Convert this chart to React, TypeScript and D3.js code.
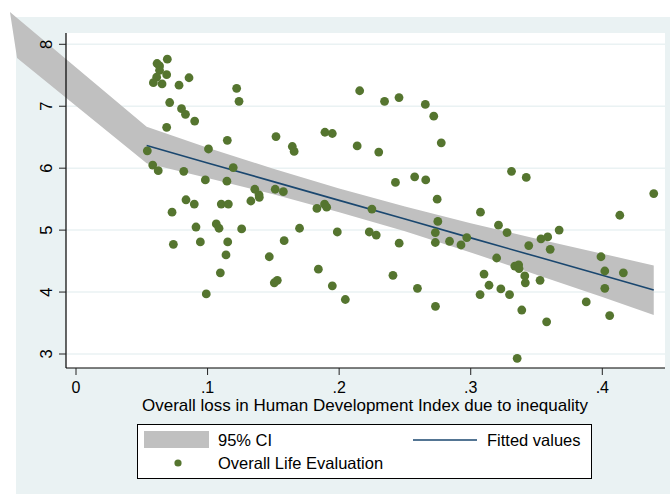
import React from "react";
import * as d3 from "d3";

// Overall loss in HDI due to inequality (x) vs overall life evaluation (y)
const lossHDI = [
  0.0694, 0.0616, 0.0635, 0.0635, 0.0613, 0.0689, 0.0588, 0.0654, 0.0783, 0.0859,
  0.1221, 0.1239, 0.0712, 0.0802, 0.0832, 0.0902, 0.0689, 0.115, 0.1007, 0.152,
  0.1644, 0.1658, 0.0542, 0.0583, 0.0625, 0.0819, 0.1195, 0.0983, 0.1147, 0.1359,
  0.1391, 0.1393, 0.1514, 0.1576, 0.0836, 0.0899, 0.1104, 0.1158, 0.1329, 0.073,
  0.0912, 0.1066, 0.1087, 0.1259, 0.1699, 0.074, 0.0945, 0.1153, 0.1582, 0.114,
  0.1469, 0.1097, 0.153, 0.1507, 0.099, 0.2156, 0.2345, 0.2455, 0.2655, 0.2719,
  0.1892, 0.1948, 0.2137, 0.2301, 0.2776, 0.2428, 0.2574, 0.2658, 0.2745, 0.1831,
  0.1889, 0.1905, 0.2249, 0.275, 0.3074, 0.1986, 0.2229, 0.2282, 0.2456, 0.2731,
  0.2731, 0.2839, 0.2926, 0.297, 0.1842, 0.1948, 0.2047, 0.2409, 0.2595, 0.2732,
  0.3071, 0.331, 0.3422, 0.4391, 0.4133, 0.3211, 0.3276, 0.3672, 0.3534, 0.3585,
  0.3441, 0.3604, 0.3197, 0.399, 0.3335, 0.3364, 0.3367, 0.4019, 0.416, 0.3101,
  0.3411, 0.3527, 0.3415, 0.3139, 0.3229, 0.3295, 0.4019, 0.3878, 0.3388, 0.4056,
  0.3577, 0.3353,
];
const lifeEval = [
  7.76, 7.69, 7.65, 7.58, 7.47, 7.51, 7.38, 7.36, 7.34, 7.46,
  7.29, 7.08, 7.06, 6.96, 6.87, 6.76, 6.66, 6.45, 6.31, 6.51,
  6.35, 6.27, 6.28, 6.05, 5.96, 5.95, 6.01, 5.81, 5.79, 5.66,
  5.57, 5.53, 5.66, 5.62, 5.49, 5.42, 5.42, 5.42, 5.47, 5.29,
  5.05, 5.1, 5.03, 5.02, 5.03, 4.77, 4.81, 4.81, 4.83, 4.6,
  4.57, 4.31, 4.19, 4.15, 3.97, 7.25, 7.08, 7.14, 7.03, 6.84,
  6.58, 6.56, 6.36, 6.26, 6.41, 5.77, 5.86, 5.81, 5.5, 5.35,
  5.42, 5.37, 5.34, 5.14, 5.29, 4.97, 4.97, 4.92, 4.79, 4.96,
  4.8, 4.82, 4.76, 4.88, 4.37, 4.1, 3.88, 4.27, 4.06, 3.77,
  3.96, 5.95, 5.85, 5.59, 5.24, 5.08, 4.96, 5.0, 4.86, 4.89,
  4.75, 4.69, 4.55, 4.57, 4.42, 4.44, 4.38, 4.34, 4.31, 4.29,
  4.26, 4.19, 4.15, 4.11, 4.05, 3.96, 4.06, 3.84, 3.71, 3.62,
  3.52, 2.93,
];

// Confidence band of the linear fit; the first pair is the stray leftmost evaluation
const ciXUpper = [-0.0502, 0.0537, 0.1, 0.15, 0.2, 0.25, 0.3, 0.35, 0.4, 0.4391];
const ciXLower = [-0.0448, 0.0537, 0.1, 0.15, 0.2, 0.25, 0.3, 0.35, 0.4, 0.4391];
const ciLower = [7.78, 6.08, 5.84, 5.58, 5.29, 4.98, 4.64, 4.28, 3.92, 3.63];
const ciUpper = [8.52, 6.67, 6.33, 5.99, 5.67, 5.38, 5.11, 4.86, 4.62, 4.43];

// Fitted values
const fitX = [0.0537, 0.1, 0.15, 0.2, 0.25, 0.3, 0.35, 0.4, 0.4391];
const fitY = [6.365, 6.085, 5.783, 5.48, 5.178, 4.875, 4.573, 4.27, 4.033];

const xTicks = [0, 0.1, 0.2, 0.3, 0.4];
const xTickLabels = ["0", ".1", ".2", ".3", ".4"];
const yTicks = [3, 4, 5, 6, 7, 8];

const W = 670;
const H = 494;
const BG = "#EAF2F3";
const GREEN = "#55752F";
const NAVY = "#1A476F";
const BAND = "#C0C0C0";
const FONT = "'Liberation Sans', Arial, Helvetica, sans-serif";

export default function App() {
  const x = d3.scaleLinear().domain([0, 0.4]).range([76, 602.3]);
  const y = d3.scaleLinear().domain([3, 8]).range([354, 44.3]);
  const plot = { left: 66, right: 665, top: 33, bottom: 368 };

  const band = d3
    .area<number>()
    .x0((_, i) => x(ciXLower[i]))
    .x1((_, i) => x(ciXUpper[i]))
    .y0((_, i) => y(ciLower[i]))
    .y1((_, i) => y(ciUpper[i]));
  const fitLine = d3
    .line<number>()
    .x((_, i) => x(fitX[i]))
    .y((d) => y(d));

  return (
    <svg
      width={W}
      height={H}
      style={{ position: "absolute", left: 0, top: 0, fontFamily: FONT }}
    >
      <rect x={0} y={0} width={W} height={H} fill="#FFFFFF" />
      <rect x={16} y={17} width={W - 16} height={H - 17} fill={BG} />
      <rect
        x={plot.left}
        y={plot.top}
        width={plot.right - plot.left}
        height={plot.bottom - plot.top}
        fill="#FFFFFF"
      />
      {yTicks.map((t) => (
        <line
          key={"g" + t}
          x1={plot.left}
          x2={plot.right}
          y1={y(t)}
          y2={y(t)}
          stroke={BG}
          strokeWidth={1.5}
        />
      ))}

      <path d={band(ciUpper) || ""} fill={BAND} />
      <path d={fitLine(fitY) || ""} fill="none" stroke={NAVY} strokeWidth={1.6} />

      {lossHDI.map((v, i) => (
        <circle key={i} cx={x(v)} cy={y(lifeEval[i])} r={4.4} fill={GREEN} />
      ))}

      {/* axes */}
      <line x1={plot.left} x2={plot.left} y1={plot.top} y2={plot.bottom} stroke="#000" strokeWidth={1.2} />
      <line x1={plot.left} x2={plot.right} y1={plot.bottom} y2={plot.bottom} stroke="#000" strokeWidth={1.2} />
      {yTicks.map((t) => (
        <g key={"y" + t}>
          <line x1={plot.left - 7} x2={plot.left} y1={y(t)} y2={y(t)} stroke="#222" strokeWidth={1} />
          <text
            transform={`translate(${52},${y(t)}) rotate(-90)`}
            textAnchor="middle"
            fontSize={16.5}
            fill="#000"
          >
            {t}
          </text>
        </g>
      ))}
      {xTicks.map((t, i) => (
        <g key={"x" + t}>
          <line x1={x(t)} x2={x(t)} y1={plot.bottom} y2={plot.bottom + 7} stroke="#222" strokeWidth={1} />
          <text x={x(t)} y={393} textAnchor="middle" fontSize={16} fill="#000">
            {xTickLabels[i]}
          </text>
        </g>
      ))}
      <text x={365} y={410.5} textAnchor="middle" fontSize={17} fill="#000">
        Overall loss in Human Development Index due to inequality
      </text>

      {/* legend */}
      <rect x={137.5} y={424.5} width={454} height={54} fill="#FFFFFF" stroke="#000" strokeWidth={1} />
      <rect x={144} y={431} width={65} height={17} fill={BAND} />
      <text x={218} y={446} fontSize={16.5} fill="#000">95% CI</text>
      <line x1={413} x2={477} y1={440} y2={440} stroke={NAVY} strokeWidth={1.6} />
      <text x={487} y={446} fontSize={16.5} fill="#000">Fitted values</text>
      <circle cx={178} cy={463} r={3.6} fill={GREEN} />
      <text x={218} y={469} fontSize={16.5} fill="#000">Overall Life Evaluation</text>
    </svg>
  );
}
